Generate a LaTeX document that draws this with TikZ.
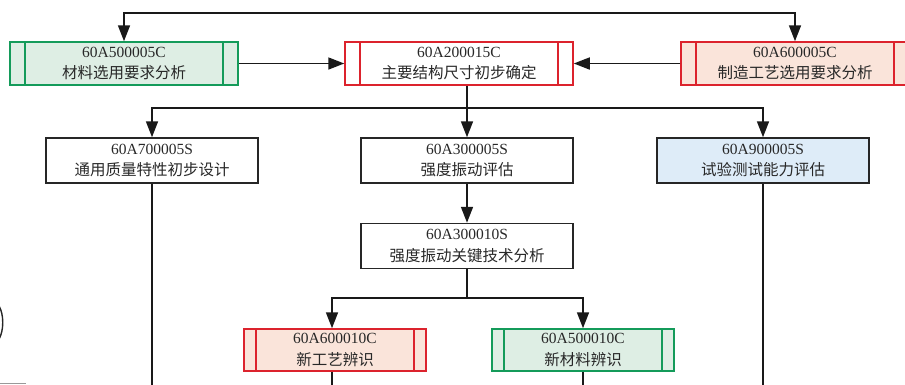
\documentclass[tikz,border=0pt]{standalone}
\usepackage{fontspec}
\setmainfont{Liberation Serif}
\newfontfamily\cjk{Noto Sans CJK SC}
\usetikzlibrary{arrows.meta}
\definecolor{gline}{RGB}{20,155,90}
\definecolor{gfill}{RGB}{222,238,228}
\definecolor{rline}{RGB}{220,35,45}
\definecolor{rfill}{RGB}{250,228,218}
\definecolor{bfill}{RGB}{222,236,248}
\definecolor{txt}{RGB}{40,40,40}
\begin{document}
\begin{tikzpicture}[x=1pt,y=-1pt,
  every node/.style={text=txt},
  box/.style={draw=black!85, line width=1.5pt, align=center, inner sep=0pt,
    font=\fontsize{15.5}{21.5}\selectfont},
  wbox/.style={box, minimum width=212pt, minimum height=45pt},
  dbl/.style 2 args={box, draw=#1, fill=#2,
    path picture={\draw[line width=1.5pt,draw=#1]
      ([xshift=15pt]path picture bounding box.north west) -- ([xshift=15pt]path picture bounding box.south west)
      ([xshift=-15pt]path picture bounding box.north east) -- ([xshift=-15pt]path picture bounding box.south east);}},
  sbl/.style 2 args={box, draw=#1, fill=#2,
    path picture={\draw[line width=1.5pt,draw=#1]
      ([xshift=12pt]path picture bounding box.north west) -- ([xshift=12pt]path picture bounding box.south west)
      ([xshift=-12pt]path picture bounding box.north east) -- ([xshift=-12pt]path picture bounding box.south east);}},
  tbox/.style={minimum width=228pt, minimum height=43pt},
  ebox/.style={minimum width=182pt, minimum height=42pt},
  conn/.style={line width=1.7pt, draw=black!90},
  tip/.tip={Triangle[length=16pt,width=12pt]},
  arr/.style={conn, -tip}
]
\useasboundingbox (0,0) rectangle (905,384);

% top row
\node[dbl={gline}{gfill}, tbox] (b1) at (124,63.5) {60A500005C\\{\cjk 材料选用要求分析}};
\node[dbl={rline}{white}, tbox] (b2) at (459,63.5) {60A200015C\\{\cjk 主要结构尺寸初步确定}};
\node[dbl={rline}{rfill}, tbox] (b3) at (795,63.5) {60A600005C\\{\cjk 制造工艺选用要求分析}};

% second row
\node[wbox] (c1) at (152,160.5) {60A700005S\\{\cjk 通用质量特性初步设计}};
\node[wbox] (c2) at (467,160.5) {60A300005S\\{\cjk 强度振动评估}};
\node[wbox, fill=bfill] (c3) at (763,160.5) {60A900005S\\{\cjk 试验测试能力评估}};

% third row
\node[wbox] (d2) at (467,246) {60A300010S\\{\cjk 强度振动关键技术分析}};

% fourth row
\node[sbl={rline}{rfill}, ebox] (e1) at (335,350) {60A600010C\\{\cjk 新工艺辨识}};
\node[sbl={gline}{gfill}, ebox] (e2) at (583,350) {60A500010C\\{\cjk 新材料辨识}};

% helper coordinates
\coordinate (t1) at (124,13);
\coordinate (t3) at (795,13);
\coordinate (j) at (467,108);
\coordinate (k) at (467,298);
\coordinate (z1) at (152,386);
\coordinate (z3) at (763,386);
\coordinate (ze1) at (332,386);
\coordinate (ze2) at (583,386);

% connectors
\draw[conn, tip-tip] (b1.north) -- (t1) -- (t3) -- (b3.north);
\draw[arr] (b1.east) -- (b2.west);
\draw[arr] (b3.west) -- (b2.east);
\draw[arr] (b2.south -| c2.north) -- (c2.north);
\draw[arr] (j) -| (c1.north);
\draw[arr] (j) -| (c3.north);
\draw[arr] (c2.south) -- (d2.north);
\draw[conn] (d2.south) -- (k);
\draw[arr] (k) -| ([xshift=-3pt]e1.north);
\draw[arr] (k) -| (e2.north);
\draw[conn] (c1.south) -- (z1);
\draw[conn] (c3.south) -- (z3);
\draw[conn] ([xshift=-3pt]e1.south) -- (ze1);
\draw[conn] (e2.south) -- (ze2);

% cropped fragments at left edge
\draw[line width=1.4pt, black!85] (-1,306) .. controls (4,314) and (4,331) .. (-1,339);
\draw[line width=1pt, black!40] (0,383) -- (26,383);
\end{tikzpicture}
\end{document}
